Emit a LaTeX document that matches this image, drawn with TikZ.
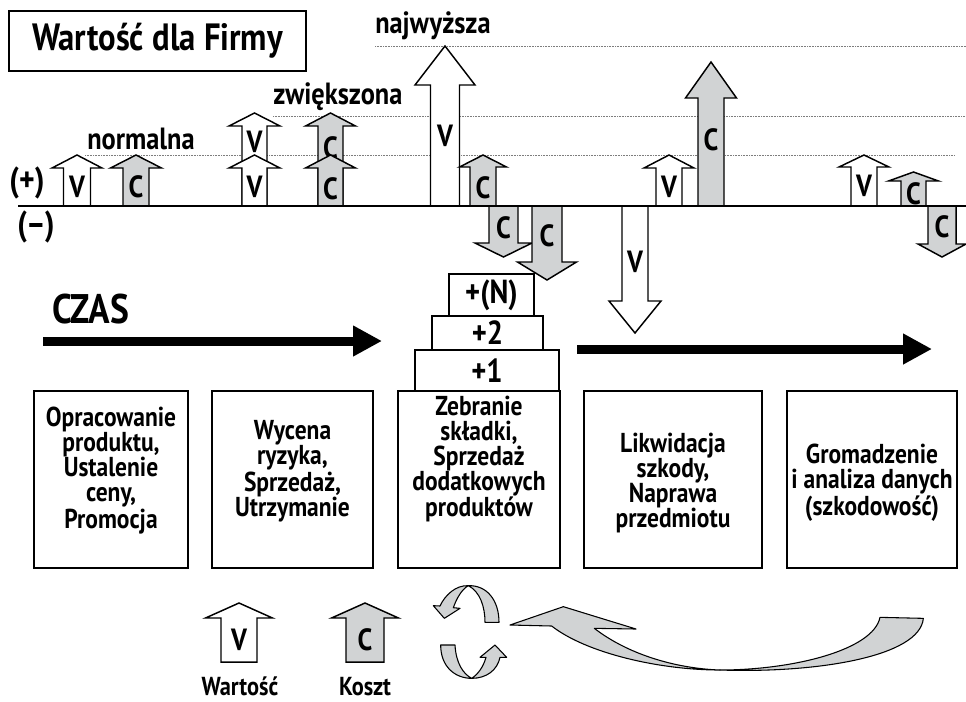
\documentclass[tikz,border=0pt]{standalone}
\usepackage{fontspec}
\setmainfont{PT Sans}[FakeStretch=0.86]
\usetikzlibrary{arrows.meta}

\newdimen\px \px=0.75pt
\definecolor{ribbongray}{RGB}{209,211,212}
\colorlet{fillV}{white}
\colorlet{fillC}{ribbongray}
\definecolor{dotgray}{RGB}{125,125,125}

\tikzset{
  blockarrowline/.style={draw=black, line width=1.1pt, line join=miter, miter limit=12},
  arrowlabel/.style={font=\fontsize{23}{23}\selectfont\bfseries, inner sep=0pt},
  levellabel/.style={font=\fontsize{23}{23}\selectfont\bfseries, inner sep=0pt},
  signlabel/.style={font=\fontsize{26}{26}\selectfont\bfseries, inner sep=0pt},
  levelline/.style={draw=dotgray, line width=0.6pt, dash pattern=on 0.6pt off 0.6pt},
  axisline/.style={draw=black, line width=1.5pt},
  titlebox/.style={draw=black, line width=1.5pt, inner sep=0pt, font=\fontsize{28.5}{28.5}\selectfont\bfseries},
  procbox/.style={draw=black, line width=1.5pt, fill=white, inner sep=0pt},
  proctext/.style={font=\fontsize{20.5}{18.75}\selectfont\bfseries, align=center, inner sep=0pt},
  stackbox/.style={draw=black, line width=1.5pt, fill=white, inner sep=0pt, font=\fontsize{25}{25}\selectfont\bfseries},
  timearrow/.style={draw=black, line width=6.75pt, -{Triangle[length=21.75pt, width=21.75pt]}},
  timelabel/.style={font=\fontsize{31}{31}\selectfont\bfseries, inner sep=0pt},
  legendlabel/.style={font=\fontsize{19.5}{19.5}\selectfont\bfseries, inner sep=0pt},
  ribbon/.style={fill=ribbongray, draw=black, line width=0.8pt, line join=round},
}

% block arrow: name, x, base y, tip y, shaft half width, head half width,
% head length, label y, kind (V = value, C = cost)
\newcommand{\blockarrow}[9]{%
  \pgfmathsetmacro{\bhy}{#4+(((#3)>(#4))?1:-1)*#7}%
  \filldraw[blockarrowline, fill=fill#9]
    (#2-#5,#3) -- (#2-#5,\bhy) -- (#2-#6,\bhy) -- (#2,#4)
    -- (#2+#6,\bhy) -- (#2+#5,\bhy) -- (#2+#5,#3) -- cycle;
  \node[arrowlabel] (#1) at (#2,#8) {#9};
}

\begin{document}
\begin{tikzpicture}[x=0.75pt, y=-0.75pt]
\path[use as bounding box, fill=white] (0,0) rectangle (966,701);

% title
\node[titlebox, minimum width=297\px, minimum height=60\px] (title) at (157.5,41) {Wartość dla Firmy};

% value levels
\node[levellabel, anchor=base west] (lvlhigh) at (375,33) {najwyższa};
\node[levellabel, anchor=base west] (lvlmid) at (273,104) {zwiększona};
\node[levellabel, anchor=base west] (lvllow) at (87,149) {normalna};
\coordinate (hl0) at (375,46);  \coordinate (hl1) at (966,46);
\coordinate (ml0) at (273,116); \coordinate (ml1) at (966,116);
\coordinate (ll0) at (85,155);  \coordinate (ll1) at (955,155);
\draw[levelline] (hl0) -- (hl1);
\draw[levelline] (ml0) -- (ml1);
\draw[levelline] (ll0) -- (ll1);

\node[signlabel] (plus) at (27,183) {(+)};
\node[signlabel] (minus) at (36,227) {(–)};

% value and cost arrows along the time line
\blockarrow{a1}{77}{206}{155}{13.5}{25}{13}{187}{V}
\blockarrow{a2}{136}{206}{155}{13}{25.5}{13}{187}{C}
\blockarrow{a3u}{254.5}{206}{113}{12.5}{25.5}{13}{142}{V}
\blockarrow{a3}{254.5}{206}{155}{12.5}{25.5}{13}{187}{V}
\blockarrow{a4u}{330.5}{206}{113}{12.5}{25}{13}{148}{C}
\blockarrow{a4}{330.5}{206}{155}{12.5}{25}{13}{189}{C}
\blockarrow{a5}{445}{206}{46}{14.5}{30}{39}{136}{V}
\blockarrow{a6}{483}{206}{155}{13}{23.5}{12}{188}{C}
\blockarrow{a7}{503.5}{206}{257}{14.5}{28.5}{14}{228}{C}
\blockarrow{a8}{547}{206}{280}{15}{29.5}{18}{236}{C}
\blockarrow{a9}{635}{206}{333}{13}{26}{32}{262}{V}
\blockarrow{a10}{669}{206}{155}{13}{25}{13}{187}{V}
\blockarrow{a11}{711}{206}{62}{13}{25.5}{36}{140}{C}
\blockarrow{a12}{864}{206}{155}{13}{25}{12}{186}{V}
\blockarrow{a13}{913.5}{206}{172}{12.5}{25}{9}{194}{C}
\blockarrow{a14}{942}{206}{257}{14}{24}{13}{227}{C}

% axis
\coordinate (ax0) at (18,206); \coordinate (ax1) at (966,206);
\draw[axisline] (ax0) -- (ax1);

% time
\node[timelabel, anchor=base west] (czas) at (52,323) {CZAS};
\coordinate (t1s) at (43,341);  \coordinate (t1e) at (382,341);
\coordinate (t2s) at (577,349); \coordinate (t2e) at (932,349);
\draw[timearrow] (t1s) -- (t1e);
\draw[timearrow] (t2s) -- (t2e);

% stacked premiums
\node[stackbox, minimum width=144\px, minimum height=41\px] (s1) at (487,370.5) {+1};
\node[stackbox, minimum width=111\px, minimum height=34\px] (s2) at (487.5,333) {+2};
\node[stackbox, minimum width=85\px, minimum height=42\px] (sn) at (491.5,295) {+(N)};

% process stages
\node[procbox, minimum width=154\px, minimum height=177\px] (b1) at (111,479.5) {};
\node[procbox, minimum width=161\px, minimum height=177\px] (b2) at (292.5,479.5) {};
\node[procbox, minimum width=162\px, minimum height=177\px] (b3) at (479,479.5) {};
\node[procbox, minimum width=178\px, minimum height=177\px] (b4) at (673,479.5) {};
\node[procbox, minimum width=170\px, minimum height=177\px] (b5) at (872,479.5) {};
\node[proctext] (b1t) at (111,470.5) {Opracowanie\\produktu,\\Ustalenie\\ceny,\\Promocja};
\node[proctext] (b2t) at (292.5,471) {Wycena\\ryzyka,\\Sprzedaż,\\Utrzymanie};
\node[proctext] (b3t) at (479,459) {Zebranie\\składki,\\Sprzedaż\\dodatkowych\\produktów};
\node[proctext] (b4t) at (673,483) {Likwidacja\\szkody,\\Naprawa\\przedmiotu};
\node[proctext] (b5t) at (872,483) {Gromadzenie\\i analiza danych\\(szkodowość)};

% legend
\blockarrow{lgv}{239}{662}{603}{18}{33.5}{15}{640}{V}
\blockarrow{lgc}{365}{662}{603}{19}{33.5}{15}{640}{C}
\node[legendlabel, anchor=base] (lgvt) at (240,695) {Wartość};
\node[legendlabel, anchor=base] (lgct) at (365,695) {Koszt};

% renewal cycle
\begin{scope}[shift={(400,570)}, scale=1/3]
  \filldraw[ribbon] (205,47) .. controls (260,45) and (297,90) .. (297,157)
    -- (255,157) .. controls (255,110) and (240,65) .. (205,47) -- cycle;
  \filldraw[ribbon] (205,47) .. controls (168,45) and (135,75) .. (120,108)
    -- (100,107) -- (133,145) -- (180,115) -- (160,113)
    .. controls (170,85) and (185,58) .. (205,47) -- cycle;
  \filldraw[ribbon] (122,225) -- (165,225) .. controls (168,280) and (190,312) .. (215,325)
    .. controls (165,325) and (122,290) .. (122,225) -- cycle;
  \filldraw[ribbon] (215,325) .. controls (260,325) and (292,300) .. (300,262)
    -- (320,262) -- (285,225) -- (240,262) -- (258,262)
    .. controls (250,290) and (235,312) .. (215,325) -- cycle;
\end{scope}

% feedback arrow
\begin{scope}[shift={(500,560)}, scale=1/3]
  \filldraw[ribbon] (30,195) -- (190,140) -- (408,207) -- (283,205)
    .. controls (380,280) and (520,325) .. (660,330)
    .. controls (480,330) and (260,280) .. (155,198) -- cycle;
  \filldraw[ribbon] (660,330) .. controls (880,330) and (1120,270) .. (1140,172)
    -- (1270,175) .. controls (1260,290) and (950,340) .. (660,330) -- cycle;
\end{scope}
\end{tikzpicture}
\end{document}
